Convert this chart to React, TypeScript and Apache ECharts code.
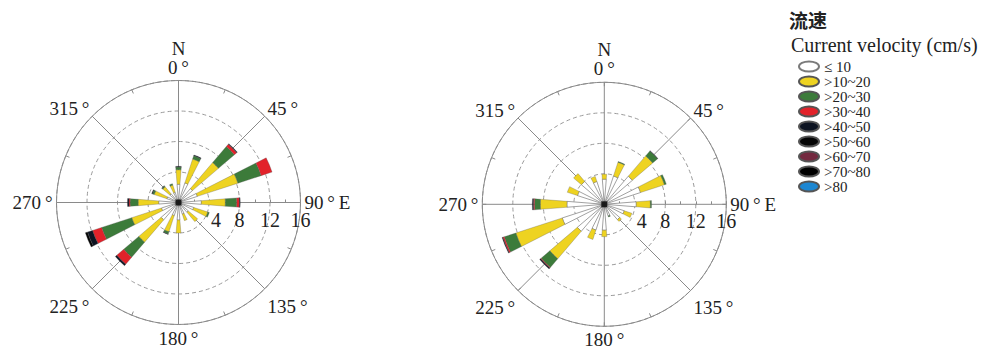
import React, { useEffect, useRef } from 'react';
import * as echarts from 'echarts';

// 16 direction bins (compass degrees, clockwise from north)
const directions = ['0', '22.5', '45', '67.5', '90', '112.5', '135', '157.5', '180', '202.5', '225', '247.5', '270', '292.5', '315', '337.5'];

const classNames = ['≤ 10', '>10~20', '>20~30', '>30~40', '>40~50', '>50~60', '>60~70', '>70~80', '>80'];
const classColors = ['#ffffff', '#eed321', '#3c7b3a', '#e2222a', '#0d1422', '#050505', '#73293f', '#000000', '#1d87d2'];

// Left rose: segment lengths (% frequency) per velocity class
const leftLe10 = [2.4, 2.7, 2.4, 2.6, 3.0, 2.1, 1.7, 1.6, 2.3, 1.8, 3.0, 2.35, 2.6, 1.6, 1.5, 1.4];
const left10to20 = [1.9, 3.3, 4.5, 5.6, 3.15, 1.95, 1.6, 0.9, 1.7, 2.25, 3.85, 4.1, 2.7, 1.75, 1.2, 1.0];
const left20to30 = [0.35, 0.45, 2.75, 3.2, 1.5, 0.2, 0, 0, 0, 0.3, 2.6, 4.15, 1.05, 0.25, 0.15, 0.2];
const left30to40 = [0, 0, 0.4, 1.5, 0.35, 0, 0, 0, 0, 0, 1.2, 1.25, 0.15, 0, 0, 0];
const left40to50 = [0.1, 0.1, 0.1, 0, 0.1, 0, 0, 0, 0, 0.05, 0.25, 0.7, 0.2, 0.1, 0.05, 0];
const left50to60 = [0, 0, 0, 0, 0, 0, 0, 0, 0, 0, 0, 0.3, 0, 0, 0, 0];
const left60to70 = [0, 0, 0, 0, 0, 0, 0, 0, 0, 0, 0, 0, 0, 0, 0, 0];
const left70to80 = [0, 0, 0, 0, 0, 0, 0, 0, 0, 0, 0, 0, 0, 0, 0, 0];
const leftOver80 = [0, 0, 0, 0, 0, 0, 0, 0, 0, 0, 0, 0, 0, 0, 0, 0];

// Right rose
const rightLe10 = [3.3, 3.9, 4.85, 5.0, 4.2, 2.75, 2.65, 1.6, 3.4, 3.55, 4.65, 5.8, 4.9, 3.7, 3.95, 3.15];
const right10to20 = [0.65, 1.9, 3.5, 3.3, 1.85, 1.05, 0.3, 0, 0.85, 1.3, 4.75, 6.4, 3.5, 1.4, 1.35, 0.7];
const right20to30 = [0, 0.1, 0.85, 0.25, 0.15, 0, 0, 0.15, 0, 0, 1.5, 1.6, 0.75, 0, 0, 0];
const right30to40 = [0, 0, 0, 0, 0, 0, 0, 0, 0, 0, 0.1, 0.2, 0.15, 0, 0, 0];
const right40to50 = [0, 0, 0.05, 0, 0, 0, 0, 0, 0, 0, 0.15, 0.1, 0.15, 0, 0, 0];
const right50to60 = [0, 0, 0, 0, 0, 0, 0, 0, 0, 0, 0, 0, 0, 0, 0, 0];
const right60to70 = [0, 0, 0, 0, 0, 0, 0, 0, 0, 0, 0, 0, 0, 0, 0, 0];
const right70to80 = [0, 0, 0, 0, 0, 0, 0, 0, 0, 0, 0, 0, 0, 0, 0, 0];
const rightOver80 = [0, 0, 0, 0, 0, 0, 0, 0, 0, 0, 0, 0, 0, 0, 0, 0];

const leftClasses = [leftLe10, left10to20, left20to30, left30to40, left40to50, left50to60, left60to70, left70to80, leftOver80];
const rightClasses = [rightLe10, right10to20, right20to30, right30to40, right40to50, right50to60, right60to70, right70to80, rightOver80];

const radiusTicks = [0, 4, 8, 12, 16];

const SERIF = 'Liberation Serif';
const GRID = '#8a8a8a';
const ELLIPSE = 'path://M10,0 C15.5,0 20,2.2 20,5 C20,7.8 15.5,10 10,10 C4.5,10 0,7.8 0,5 C0,2.2 4.5,0 10,0 Z';
const TS = '\u2009';

function angleLabel(v: number): string {
  const c = (v + 90) % 360;
  if (c === 0) return 'N\n0' + TS + '°';
  if (c === 90) return '90' + TS + '°' + TS + 'E';
  if (c === 45 || c === 315) return '{u|' + c + TS + '°}';
  if (c === 135 || c === 225) return '{l|' + c + TS + '°}';
  return c + TS + '°';
}

function radiusLabel(v: number): string {
  if (v === 0) return '';
  if (v === 4) return '{p|4}';
  return String(v);
}

export default function App() {
  const ref = useRef<HTMLDivElement>(null);
  useEffect(() => {
    const chart = echarts.init(ref.current as HTMLDivElement, null, { renderer: 'svg' });
    const centers = [[178.5, 202.5], [604.3, 204.3]];
    const R = 122;
    const polar: any[] = [];
    const angleAxis: any[] = [];
    const radiusAxis: any[] = [];
    const series: any[] = [];
    const lbl = { fontFamily: SERIF, fontSize: 19, color: '#222' };
    centers.forEach((c, ci) => {
      const gi = ci * 2;
      const bi = ci * 2 + 1;
      polar.push({ center: c, radius: R });
      polar.push({ center: c, radius: R });
      angleAxis.push({
        polarIndex: gi, type: 'value', min: 0, max: 360, interval: 45, startAngle: 0, clockwise: true,
        axisLine: { show: true, lineStyle: { color: GRID, width: 1 } },
        axisTick: { show: true, inside: true, length: 4, lineStyle: { color: GRID } },
        minorTick: { show: true, splitNumber: 2, length: 4, lineStyle: { color: GRID } },
        splitLine: { show: true, lineStyle: { color: GRID, width: 1 } },
        axisLabel: {
          show: true, margin: 4, ...lbl, lineHeight: 19,
          formatter: angleLabel,
          rich: {
            u: { ...lbl, lineHeight: 9 },
            l: { ...lbl, lineHeight: 29 },
          },
        },
      });
      radiusAxis.push({
        polarIndex: gi, type: 'value', min: radiusTicks[0], max: radiusTicks[radiusTicks.length - 1], interval: 4,
        axisLine: { show: false },
        axisTick: { show: true, length: 3, lineStyle: { color: GRID } },
        minorTick: { show: true, splitNumber: 2, length: 3, lineStyle: { color: GRID } },
        splitLine: { show: true, lineStyle: { color: '#9a9a9a', type: [4, 3], width: 1 } },
        axisLabel: {
          show: true, margin: -7, verticalAlign: 'top', align: 'center', fontFamily: SERIF, fontSize: 20, color: '#222',
          formatter: radiusLabel,
          rich: { p: { fontFamily: SERIF, fontSize: 20, color: '#222', padding: [0, 0, 0, 14] } },
        },
      });
      angleAxis.push({
        polarIndex: bi, type: 'category', data: directions, startAngle: 90 + 11.25, clockwise: true,
        axisLine: { show: false }, axisTick: { show: false }, axisLabel: { show: false }, splitLine: { show: false },
      });
      radiusAxis.push({
        polarIndex: bi, type: 'value', min: 0, max: 16,
        axisLine: { show: false }, axisTick: { show: false }, axisLabel: { show: false }, splitLine: { show: false },
      });
      const classes = ci === 0 ? leftClasses : rightClasses;
      classes.forEach((arr, k) => {
        series.push({
          type: 'bar', coordinateSystem: 'polar', polarIndex: bi, name: classNames[k], stack: 'rose' + ci,
          barWidth: '40%', silent: true,
          data: arr.map((v) => (v > 0 ? v : '-')),
          itemStyle: {
            color: classColors[k],
            borderColor: k === 0 ? '#7a7a7a' : '#555',
            borderWidth: k === 0 ? 0.7 : 0.3,
          },
        });
      });
      series.push({
        type: 'scatter', coordinateSystem: 'polar', polarIndex: bi, name: 'centre' + ci, silent: true,
        data: [[0, 0]], symbol: 'rect', symbolSize: 6, itemStyle: { color: '#000' }, z: 5,
      });
    });

    chart.setOption({
      animation: false,
      backgroundColor: '#ffffff',
      title: [
        { text: '流速', left: 784, top: 5, textStyle: { fontFamily: 'Noto Sans CJK SC', fontSize: 19, fontWeight: 'bold', color: '#222' } },
        { text: 'Current velocity (cm/s)', left: 786, top: 30, textStyle: { fontFamily: SERIF, fontSize: 20, fontWeight: 'normal', color: '#222' } },
      ],
      legend: {
        data: classNames, orient: 'vertical', left: 793, top: 54, itemWidth: 20, itemHeight: 10, itemGap: 0,
        icon: ELLIPSE, selectedMode: false,
        textStyle: { fontFamily: SERIF, fontSize: 15, color: '#222', lineHeight: 15 },
      },
      polar, angleAxis, radiusAxis, series,
    });
    return () => chart.dispose();
  }, []);
  return <div ref={ref} style={{ position: 'absolute', left: 0, top: 0, width: 981, height: 350, background: '#fff' }} />;
}
